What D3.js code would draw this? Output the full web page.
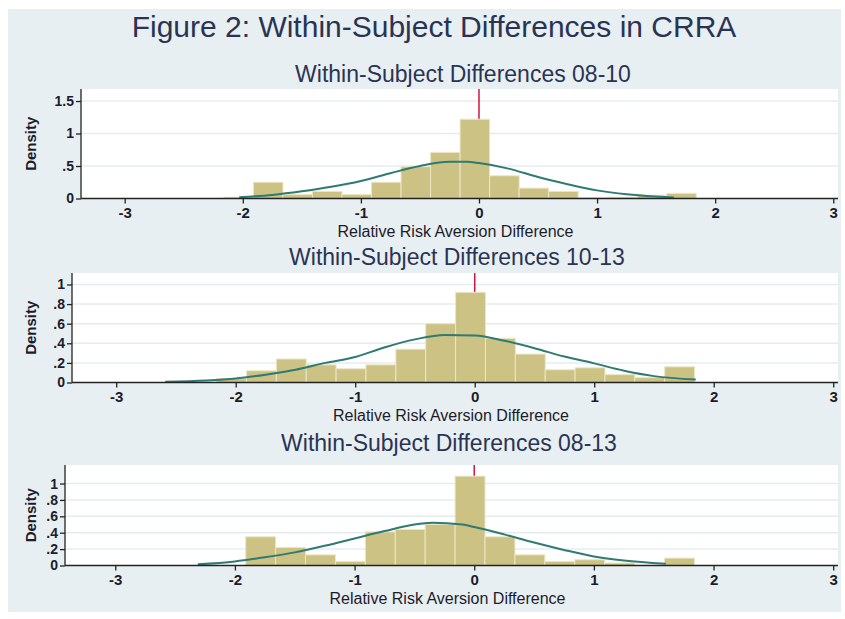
<!DOCTYPE html>
<meta charset="utf-8">
<style type="text/css">
body { margin: 0; background: #fff; }
text { font-family: Arial, "Liberation Sans", sans-serif; }
.grid line { stroke: #e4ecf0; stroke-width: 1.5; }
.bar { fill: #cbc283; stroke: #ebe7c6; stroke-width: 1; }
.fit { fill: none; stroke: #2f7a72; stroke-width: 2; }
.zero { stroke: #d1153d; stroke-width: 1.5; }
.axis path, .axis line { stroke: #222; stroke-width: 1.3; }
.axis text { fill: #1c1c2a; font-size: 14px; font-weight: bold; }
.xaxis text { font-size: 15px; }
</style>
<body>
<div id="chart"></div>
<script src="https://d3js.org/d3.v7.min.js"></script>
<script>
// histogram bin edges (shared by all three panels)
var binEdges = [-2.16, -1.91, -1.66, -1.41, -1.16, -0.91, -0.66, -0.41, -0.16,
                0.09, 0.34, 0.59, 0.84, 1.09, 1.34, 1.59, 1.84];

// bar heights (density)
var dens0810 = [0.02, 0.25, 0.06, 0.11, 0.06, 0.25, 0.49, 0.71, 1.22, 0.35, 0.16, 0.11, 0.01, 0.02, 0.05, 0.08];
var dens1013 = [0.04, 0.12, 0.24, 0.18, 0.14, 0.18, 0.34, 0.60, 0.92, 0.45, 0.29, 0.13, 0.15, 0.08, 0.05, 0.16];
var dens0813 = [0, 0.35, 0.22, 0.13, 0.05, 0.41, 0.44, 0.50, 1.09, 0.35, 0.13, 0.05, 0.07, 0.03, 0, 0.09];

// normal overlay, points
var fitX0810 = [-2.03, -1.75, -1.5, -1.25, -1.0, -0.75, -0.5, -0.25, -0.1, 0.0, 0.25, 0.5, 0.75, 1.0, 1.25, 1.5, 1.65];
var fitY0810 = [0.02, 0.055, 0.11, 0.18, 0.27, 0.39, 0.50, 0.565, 0.565, 0.545, 0.46, 0.33, 0.22, 0.125, 0.065, 0.03, 0.015];
var fitX1013 = [-2.59, -2.25, -2.0, -1.75, -1.5, -1.25, -1.0, -0.75, -0.5, -0.25, 0.0, 0.25, 0.5, 0.75, 1.0, 1.25, 1.5, 1.85];
var fitY1013 = [0.008, 0.02, 0.04, 0.08, 0.13, 0.20, 0.26, 0.36, 0.44, 0.485, 0.48, 0.425, 0.35, 0.265, 0.195, 0.12, 0.065, 0.03];
var fitX0813 = [-2.31, -2.0, -1.75, -1.5, -1.25, -1.0, -0.75, -0.5, -0.35, -0.1, 0.0, 0.25, 0.5, 0.75, 1.0, 1.25, 1.6];
var fitY0813 = [0.015, 0.05, 0.10, 0.16, 0.24, 0.33, 0.42, 0.50, 0.52, 0.50, 0.47, 0.38, 0.28, 0.19, 0.11, 0.06, 0.02];

var xTicks = [-3, -2, -1, 0, 1, 2, 3];
var yTicks0810 = [0, 0.5, 1, 1.5];
var yLabels0810 = ["0", ".5", "1", "1.5"];
var yTicksOther = [0, 0.2, 0.4, 0.6, 0.8, 1];
var yLabelsOther = ["0", ".2", ".4", ".6", ".8", "1"];

var mainTitle = "Figure 2: Within-Subject Differences in CRRA";
var panelTitles = ["Within-Subject Differences 08-10", "Within-Subject Differences 10-13", "Within-Subject Differences 08-13"];
var xTitle = "Relative Risk Aversion Difference";
var yTitle = "Density";

var W = 845, H = 619;

var panels = [
  {dens: dens0810, fx: fitX0810, fy: fitY0810, yt: yTicks0810, yl: yLabels0810,
   top: 89, bottom: 198.5, left: 81, right: 838, xMin: -3.37, xMax: 3.04, yMax: 1.685, titleY: 82, titleX: 463},
  {dens: dens1013, fx: fitX1013, fy: fitY1013, yt: yTicksOther, yl: yLabelsOther,
   top: 273, bottom: 382.5, left: 72, right: 838, xMin: -3.37, xMax: 3.04, yMax: 1.117, titleY: 265, titleX: 457},
  {dens: dens0813, fx: fitX0813, fy: fitY0813, yt: yTicksOther, yl: yLabelsOther,
   top: 465, bottom: 565.5, left: 65, right: 838, xMin: -3.42, xMax: 3.04, yMax: 1.226, titleY: 451, titleX: 449}
];

var svg = d3.select("#chart").append("svg")
    .attr("width", W)
    .attr("height", H);

svg.append("rect")
    .attr("x", 8).attr("y", 9)
    .attr("width", 833).attr("height", 603)
    .attr("fill", "#e8eff2");

svg.append("text")
    .attr("x", 434).attr("y", 37)
    .attr("text-anchor", "middle")
    .attr("font-size", 30)
    .attr("fill", "#2a3452")
    .text(mainTitle);

panels.forEach(function(p, k) {
  var x = d3.scaleLinear().domain([p.xMin, p.xMax]).range([p.left, p.right]);
  var y = d3.scaleLinear().domain([0, p.yMax]).range([p.bottom, p.top]);
  var g = svg.append("g");

  g.append("text")
      .attr("x", p.titleX).attr("y", p.titleY)
      .attr("text-anchor", "middle")
      .attr("font-size", 23)
      .attr("fill", "#2a3452")
      .text(panelTitles[k]);

  // plot region
  g.append("rect")
      .attr("x", p.left).attr("y", p.top)
      .attr("width", p.right - p.left).attr("height", p.bottom - p.top)
      .attr("fill", "#fff");

  g.append("g").attr("class", "grid")
    .selectAll("line")
    .data(p.yt.filter(function(d) { return d > 0; }))
    .enter().append("line")
      .attr("x1", p.left).attr("x2", p.right)
      .attr("y1", function(d) { return y(d); })
      .attr("y2", function(d) { return y(d); });

  // vertical line at zero
  g.append("line").attr("class", "zero")
      .attr("x1", x(0)).attr("x2", x(0))
      .attr("y1", p.top).attr("y2", p.bottom);

  g.selectAll(".bar")
      .data(p.dens)
    .enter().append("rect")
      .attr("class", "bar")
      .attr("x", function(d, i) { return x(binEdges[i]); })
      .attr("width", function(d, i) { return x(binEdges[i + 1]) - x(binEdges[i]); })
      .attr("y", function(d) { return y(d); })
      .attr("height", function(d) { return p.bottom - y(d); })
      .style("display", function(d) { return d > 0 ? null : "none"; });

  var line = d3.line()
      .x(function(d) { return x(d[0]); })
      .y(function(d) { return y(d[1]); })
      .curve(d3.curveMonotoneX);

  g.append("path")
      .datum(p.fx.map(function(v, i) { return [v, p.fy[i]]; }))
      .attr("class", "fit")
      .attr("d", line);

  // axes
  g.append("g").attr("class", "axis xaxis")
      .attr("transform", "translate(0," + p.bottom + ")")
      .call(d3.axisBottom(x).tickValues(xTicks).tickSize(5).tickSizeOuter(0).tickPadding(4)
            .tickFormat(function(d) { return String(d); }))
      .call(function(a) { a.select(".domain").attr("d", "M" + p.left + ",0H" + p.right); });

  g.append("g").attr("class", "axis")
      .attr("transform", "translate(" + p.left + ",0)")
      .call(d3.axisLeft(y).tickValues(p.yt).tickSize(5).tickSizeOuter(0).tickPadding(2)
            .tickFormat(function(d, i) { return p.yl[i]; }))
      .call(function(a) { a.select(".domain").attr("d", "M0," + p.top + "V" + p.bottom); });

  g.append("text")
      .attr("x", (p.left + p.right) / 2 - 4).attr("y", p.bottom + 38)
      .attr("text-anchor", "middle")
      .attr("font-size", 16)
      .attr("fill", "#1c1c2a")
      .text(xTitle);

  g.append("text")
      .attr("transform", "translate(36," + ((p.top + p.bottom) / 2) + ") rotate(-90)")
      .attr("text-anchor", "middle")
      .attr("font-size", 15)
      .attr("font-weight", "bold")
      .attr("fill", "#1c1c2a")
      .text(yTitle);
});
</script>
</body>
